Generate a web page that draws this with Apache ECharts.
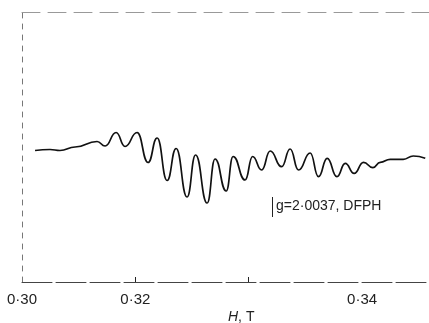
<!DOCTYPE html>
<html><head><meta charset="utf-8">
<script src="https://cdn.jsdelivr.net/npm/echarts@6/dist/echarts.min.js"></script>
<style>html,body{margin:0;padding:0;background:#fff}#c{width:429px;height:323px}</style>
</head><body><div id="c"></div>
<script>
// Magnetic field H (T) at the extrema of the traced derivative EPR spectrum
const fieldH = [0.31115,0.31247,0.31335,0.31468,0.31662,0.31733,0.31830,0.31909,0.32015,0.32112,
  0.32192,0.32280,0.32359,0.32456,0.32531,0.32633,0.32703,0.32801,0.32862,0.32968,
  0.33034,0.33114,0.33189,0.33290,0.33365,0.33439,0.33542,0.33615,0.33692,0.33778,
  0.33851,0.33930,0.34012,0.34095,0.34160,0.34248,0.34363,0.34451,0.34557];
// Signal (arbitrary units)
const signal = [-0.05,0.05,-0.05,0.3,0.85,0.4,1.75,0.35,1.75,-1.25,
  1.2,-3.05,0.15,-4.7,-0.5,-5.3,-0.9,-4.1,-0.65,-3.0,
  -0.65,-2.0,-0.1,-1.67,0.1,-2.0,-0.3,-2.67,-0.83,-2.67,
  -1.33,-2.33,-1.23,-1.77,-1.23,-0.93,-0.93,-0.6,-0.83];
// Tick positions and their printed labels
const tickValues = [0.31,0.32,0.33,0.34];
const tickLabels = ["0·30","0·32","","0·34"];
const tickMarked = [0.32,0.33];
// g-marker
const gField = 0.3321;
const gMarkY = [-4.7,-6.7];
const gText = "g=2·0037, DFPH";

const chart = echarts.init(document.getElementById('c'));
const font = "'Liberation Sans', Arial, sans-serif";
chart.setOption({
  animation:false,
  backgroundColor:'#fff',
  grid:{left:22,right:0,top:12,bottom:41},
  xAxis:[{
    type:'value', position:'bottom', min:0.31, max:0.3459, interval:0.01,
    axisLine:{show:true,onZero:false,lineStyle:{color:'#444',width:1,type:[30,4]}},
    axisTick:{show:false},
    splitLine:{show:false},
    axisLabel:{show:true,margin:10,color:'#222',fontSize:15,fontFamily:font,
      formatter:function(v){const i=tickValues.findIndex(t=>Math.abs(t-v)<1e-6);return i>=0?tickLabels[i]:'';},
      showMaxLabel:false}
  },{
    type:'value', position:'top', min:0.31, max:0.3459,
    axisLine:{show:true,onZero:false,lineStyle:{color:'#999',width:1,type:[18,8]}},
    axisTick:{show:false},axisLabel:{show:false},splitLine:{show:false}
  }],
  yAxis:{
    type:'value', min:-13.2, max:13.8,
    axisLine:{show:true,onZero:false,lineStyle:{color:'#777',width:1,type:[5,6]}},
    axisTick:{show:false},axisLabel:{show:false},splitLine:{show:false}
  },
  series:[{
    type:'line', xAxisIndex:0,
    data: fieldH.map((h,i)=>[h,signal[i]]),
    smooth:0.5, smoothMonotone:'x', showSymbol:false,
    lineStyle:{color:'#111',width:1.7},
    markLine:{silent:true,symbol:'none',label:{show:false},
      lineStyle:{color:'#222',width:1,type:'solid'},
      data:[[{coord:[gField,gMarkY[0]]},{coord:[gField,gMarkY[1]]}]].concat(
        tickMarked.map(t=>[{coord:[t,-13.2]},{coord:[t,-12.7]}]))}
  }],
  graphic:[
    {type:'text',left:276,top:199,style:{text:gText,font:"14px "+font,fill:'#222'}},
    {type:'text',left:228,top:310,style:{text:'{i|H}, T',
      rich:{i:{fontStyle:'italic',fontSize:14,fontFamily:font,fill:'#222'}},
      font:"14px "+font,fill:'#222'}}
  ]
});
</script></body></html>
